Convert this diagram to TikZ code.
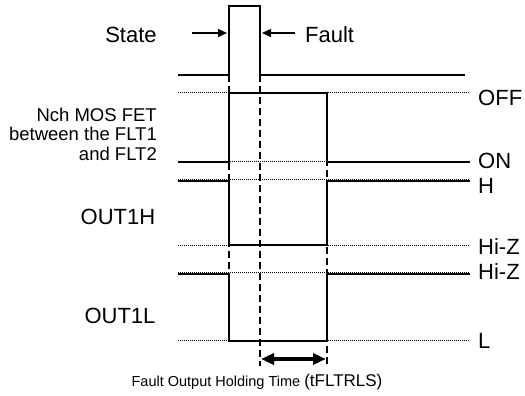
\documentclass[tikz,border=0pt]{standalone}
\usepackage{fontspec}
\setmainfont{Liberation Sans}
\usetikzlibrary{arrows.meta}
\begin{document}
\begin{tikzpicture}[x=1pt,y=-1pt,
  sig/.style={line width=2pt, line join=miter},
  refl/.style={line width=1pt, dash pattern=on 1pt off 1pt},
  guide/.style={line width=1.1pt, dash pattern=on 7pt off 4pt},
  big/.style={inner sep=0pt, font=\fontsize{22}{26}\selectfont},
  lvl/.style={inner sep=0pt, anchor=west, font=\fontsize{22}{26}\selectfont},
  small/.style={inner sep=0pt, font=\fontsize{18.5}{19.5}\selectfont, align=right},
  pointer/.style={line width=1.3pt, -{Triangle[length=9pt,width=8pt]}},
  hold/.style={line width=3.5pt, {Triangle[length=13pt,width=11pt]}-{Triangle[length=13pt,width=11pt]}}
]
\useasboundingbox (0,0) rectangle (525,396);

% reference (dotted) levels
\draw[refl] (178,93) -- (470,93);
\draw[refl] (178,161) -- (470,161);
\draw[refl] (178,179) -- (470,179);
\draw[refl] (178,245) -- (470,245);
\draw[refl] (178,272) -- (470,272);
\draw[refl] (178,340) -- (470,340);

% guide dashed lines
\draw[guide] (229,75) -- (229,341);
\draw[guide] (260,75) -- (260,366);
\draw[guide] (327,93) -- (327,366);

% State
\draw[sig] (178,75) -- (229,75) -- (229,6) -- (260,6) -- (260,75) -- (465,75);
% Nch MOS FET
\draw[sig] (178,162) -- (229,162) -- (229,93) -- (327,93) -- (327,162) -- (470,162);
% OUT1H
\draw[sig] (178,181) -- (229,181) -- (229,245) -- (327,245) -- (327,181) -- (470,181);
% OUT1L
\draw[sig] (178,274) -- (229,274) -- (229,341) -- (327,341) -- (327,274) -- (470,274);

% pointer arrows
\coordinate (pl) at (192,33);
\coordinate (plt) at (227,33);
\coordinate (pr) at (295,33);
\coordinate (prt) at (262,33);
\draw[pointer] (pl) -- (plt);
\draw[pointer] (pr) -- (prt);

% holding time arrow
\coordinate (ha) at (261,359);
\coordinate (hb) at (326,359);
\draw[hold] (ha) -- (hb);

% labels
\node[big] (state) at (131,35) {State};
\node[big, anchor=west] (fault) at (305,35) {Fault};
\node[small, anchor=east] (nch) at (157,134) {Nch MOS FET\\between the FLT1\\and FLT2};
\node[big] (o1h) at (118,217) {OUT1H};
\node[big] (o1l) at (120,316) {OUT1L};

\node[lvl] (off) at (478,98) {OFF};
\node[lvl] (on) at (478,161) {ON};
\node[lvl] (h) at (478,186) {H};
\node[lvl] (hz1) at (478,247) {Hi-Z};
\node[lvl] (hz2) at (478,272) {Hi-Z};
\node[lvl] (l) at (478,341) {L};

\node[inner sep=0pt, font=\fontsize{14.5}{17}\selectfont] (cap) at (257,382)
  {Fault Output Holding Time {\fontsize{17}{17}\selectfont (tFLTRLS)}};
\end{tikzpicture}
\end{document}
